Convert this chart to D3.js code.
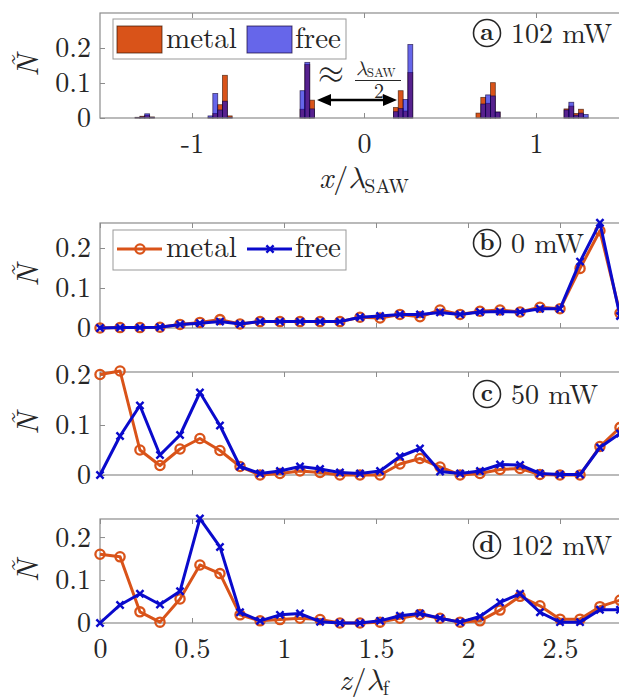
<!DOCTYPE html>
<html><head><meta charset="utf-8">
<script src="https://cdn.jsdelivr.net/npm/d3@7"></script>
<style>
body{margin:0;background:#fff}
svg{display:block}
</style>
</head><body>
<svg id="chart" width="619" height="700"></svg>
<script>
// ---------------- DATA ----------------
// Panel (a): histogram of positions x/lambda_SAW, 102 mW
const histLeft  = [-1.331,-1.303,-1.275,-1.247,
                   -0.907,-0.879,-0.851,-0.823,-0.795,
                   -0.372,-0.344,-0.316,
                    0.171, 0.199, 0.227, 0.255,
                    0.651, 0.679, 0.707, 0.735, 0.763,
                    1.163, 1.191, 1.219, 1.247, 1.275];
const histMetal = [0.002,0.005,0.008,0.003,
                   0.002,0.013,0.038,0.122,0.006,
                   0.025,0.153,0.051,
                   0.030,0.078,0.020,0.130,
                   0.014,0.059,0.042,0.101,0.017,
                   0.026,0.034,0.013,0.025,0.002];
const histFree  = [0.001,0.003,0.012,0.002,
                   0.006,0.070,0.023,0.048,0.002,
                   0.078,0.159,0.026,
                   0.018,0.027,0.053,0.210,
                   0.000,0.040,0.066,0.063,0.017,
                   0.023,0.045,0.008,0.014,0.010];
const histBinWidth = 0.0285;
const xTicksA = [-1, 0, 1];
const yTicksAll = [0, 0.1, 0.2];
const seriesNames = ["metal", "free"];

// Panels (b)-(d): N~ versus z/lambda_f
const zValues = [0,0.109,0.217,0.326,0.435,0.543,0.652,0.761,0.870,0.978,
                 1.087,1.196,1.304,1.413,1.522,1.630,1.739,1.848,1.957,2.065,
                 2.174,2.283,2.391,2.500,2.609,2.717,2.826];
const metal0   = [0,0.001,0.001,0.002,0.009,0.014,0.021,0.010,0.016,0.016,
                  0.016,0.016,0.016,0.027,0.025,0.034,0.028,0.045,0.034,0.042,
                  0.045,0.040,0.052,0.048,0.149,0.243,0.037];
const free0    = [0,0.001,0.001,0.002,0.009,0.012,0.016,0.010,0.016,0.016,
                  0.016,0.016,0.016,0.027,0.030,0.034,0.034,0.039,0.034,0.040,
                  0.041,0.040,0.048,0.048,0.166,0.263,0.030];
const metal50  = [0.201,0.208,0.050,0.019,0.052,0.073,0.049,0.017,0.000,0.003,
                  0.008,0.005,0.000,0.000,0.000,0.022,0.033,0.016,0.000,0.003,
                  0.011,0.013,0.001,0.000,0.000,0.057,0.095];
const free50   = [0.000,0.078,0.139,0.040,0.080,0.165,0.099,0.017,0.003,0.008,
                  0.017,0.012,0.005,0.003,0.008,0.037,0.053,0.007,0.003,0.008,
                  0.021,0.020,0.003,0.001,0.001,0.055,0.083];
const metal102 = [0.160,0.154,0.026,0.002,0.056,0.135,0.115,0.019,0.005,0.008,
                  0.011,0.008,0.000,0.000,0.002,0.011,0.020,0.011,0.002,0.005,
                  0.030,0.062,0.040,0.009,0.009,0.038,0.053];
const free102  = [0.000,0.042,0.068,0.043,0.074,0.243,0.177,0.025,0.005,0.019,
                  0.022,0.003,0.000,0.000,0.005,0.017,0.022,0.011,0.002,0.015,
                  0.048,0.068,0.025,0.002,0.002,0.031,0.031];
const zTicks = [0, 0.5, 1, 1.5, 2, 2.5];
const panelLetters = ["a", "b", "c", "d"];
const panelPowers  = ["102 mW", "0 mW", "50 mW", "102 mW"];

// ---------------- STYLE / LAYOUT ----------------
const ORANGE = "#D95319";
const BLUE = "#0a0acc";
const HIST_BLUE = "rgb(0,0,220)";
const FRAME = "#8c8c8c";
const FONT = "'Latin Modern Roman','Liberation Serif',serif";
const GREEK = "'Latin Modern Math','Latin Modern Roman','Liberation Serif',serif";
const FS = 28;
const TXT = "#262626";

const svg = d3.select("#chart");
const L = 100, R = 625;

function T(sel) { return sel.style("font-family", FONT).style("fill", TXT); }

function drawFrame(x, y, top, bottom, showXLabels, xTickVals, xFmt) {
  const g = svg.append("g");
  const ya = g.append("g").attr("transform", `translate(${L},0)`)
    .call(d3.axisLeft(y).tickValues(yTicksAll).tickSize(-5).tickPadding(9)
      .tickFormat(d => String(d)));
  ya.select(".domain").remove();
  ya.selectAll("line").attr("stroke", FRAME);
  T(ya.selectAll("text")).style("font-size", FS + "px");
  const xb = g.append("g").attr("transform", `translate(0,${bottom})`)
    .call(d3.axisBottom(x).tickValues(xTickVals).tickSize(-5).tickPadding(15)
      .tickFormat(showXLabels ? xFmt : () => ""));
  xb.select(".domain").remove();
  xb.selectAll("line").attr("stroke", FRAME);
  T(xb.selectAll("text")).style("font-size", FS + "px");
  const xt = g.append("g").attr("transform", `translate(0,${top})`)
    .call(d3.axisTop(x).tickValues(xTickVals).tickSize(-5).tickFormat(() => ""));
  xt.select(".domain").remove();
  xt.selectAll("line").attr("stroke", FRAME);
  g.append("rect").attr("x", L).attr("y", top).attr("width", R - L).attr("height", bottom - top)
    .attr("fill", "none").attr("stroke", FRAME).attr("stroke-width", 1.2);
  T(g.append("text")).attr("transform", `translate(38,${(top + bottom) / 2}) rotate(-90)`)
    .attr("text-anchor", "middle").style("font-size", "30px").style("font-style", "italic").text("Ñ");
}

function panelTag(i, cy) {
  const g = svg.append("g");
  g.append("circle").attr("cx", 487).attr("cy", cy).attr("r", 13.5)
    .attr("fill", "none").attr("stroke", TXT).attr("stroke-width", 1.6);
  T(g.append("text")).attr("x", 487).attr("y", cy + 7).attr("text-anchor", "middle")
    .style("font-size", "24px").style("font-weight", "bold").text(panelLetters[i]);
  T(g.append("text")).attr("x", 511).attr("y", cy + 10).style("font-size", FS + "px")
    .text(panelPowers[i]);
}

// ---------------- PANEL (a) ----------------
{
  const top = 13, bottom = 118;
  const x = d3.scaleLinear().domain([-1.535, (R - 364) / 172]).range([L, R]);
  const y = d3.scaleLinear().domain([0, 0.3]).range([bottom, top]);
  const bars = histLeft.map((l, i) => ({ l, m: histMetal[i], f: histFree[i] }));
  const hg = svg.append("g");
  hg.selectAll("rect.m").data(bars).join("rect")
    .attr("x", d => x(d.l)).attr("width", d => x(d.l + histBinWidth) - x(d.l))
    .attr("y", d => y(d.m)).attr("height", d => y(0) - y(d.m))
    .attr("fill", ORANGE).attr("stroke", "#331100").attr("stroke-opacity", 0.7).attr("stroke-width", 0.8);
  hg.selectAll("rect.f").data(bars).join("rect")
    .attr("x", d => x(d.l)).attr("width", d => x(d.l + histBinWidth) - x(d.l))
    .attr("y", d => y(d.f)).attr("height", d => y(0) - y(d.f))
    .attr("fill", HIST_BLUE).attr("fill-opacity", 0.6)
    .attr("stroke", "#110033").attr("stroke-opacity", 0.7).attr("stroke-width", 0.8);
  drawFrame(x, y, top, bottom, true, xTicksA, d => String(d));

  const lg = svg.append("g");
  lg.append("rect").attr("x", 113).attr("y", 19).attr("width", 233).attr("height", 40)
    .attr("fill", "#fff").attr("stroke", "#999").attr("stroke-width", 1);
  lg.append("rect").attr("x", 117).attr("y", 26).attr("width", 45).attr("height", 27)
    .attr("fill", ORANGE).attr("stroke", "#331100").attr("stroke-opacity", 0.7);
  lg.append("rect").attr("x", 247).attr("y", 26).attr("width", 45).attr("height", 27)
    .attr("fill", HIST_BLUE).attr("fill-opacity", 0.6).attr("stroke", "#110033").attr("stroke-opacity", 0.7);
  T(lg.append("text")).attr("x", 166).attr("y", 48).style("font-size", "29px").text(seriesNames[0]);
  T(lg.append("text")).attr("x", 295).attr("y", 48).style("font-size", "29px").text(seriesNames[1]);

  const ag = svg.append("g");
  ag.append("line").attr("x1", 325).attr("x2", 389).attr("y1", 100).attr("y2", 100)
    .attr("stroke", "#000").attr("stroke-width", 2.6);
  ag.append("path").attr("d", "M317,100 L331,94 L331,106 Z").attr("fill", "#000");
  ag.append("path").attr("d", "M397,100 L383,94 L383,106 Z").attr("fill", "#000");
  T(ag.append("text")).attr("x", 331).attr("y", 83).attr("text-anchor", "middle")
    .style("font-family", GREEK).style("font-size", "34px").text("≈");
  const num = T(ag.append("text")).attr("x", 356).attr("y", 75).style("font-size", "20px");
  num.append("tspan").style("font-family", GREEK).style("font-style", "italic").text("λ");
  num.append("tspan").style("font-size", "13px").attr("dy", 2).text("SAW");
  ag.append("line").attr("x1", 355).attr("x2", 401).attr("y1", 80.5).attr("y2", 80.5)
    .attr("stroke", TXT).attr("stroke-width", 1.2);
  T(ag.append("text")).attr("x", 379).attr("y", 98).attr("text-anchor", "middle").style("font-size", "20px").text("2");

  panelTag(0, 33);

  const xl = T(svg.append("text")).attr("x", 364).attr("y", 188).attr("text-anchor", "middle").style("font-size", "30px");
  xl.append("tspan").style("font-style", "italic").text("x");
  xl.append("tspan").text("/");
  xl.append("tspan").style("font-family", GREEK).style("font-style", "italic").text("λ");
  xl.append("tspan").style("font-size", "20px").attr("dy", 5).text("SAW");
}

// ---------------- PANELS (b)-(d) ----------------
const zPanels = [
  { top: 223, bottom: 328, ymax: 0.2625, metal: metal0,   free: free0,   tagY: 243, legend: true },
  { top: 372, bottom: 475, ymax: 0.206,  metal: metal50,  free: free50,  tagY: 394, legend: false },
  { top: 519, bottom: 623, ymax: 0.242,  metal: metal102, free: free102, tagY: 545, legend: false }
];
const x2 = d3.scaleLinear().domain([0, (R - L) / 184]).range([L, R]);

function drawCircleMarker(g, cx, cy) {
  g.append("circle").attr("cx", cx).attr("cy", cy).attr("r", 4.6)
    .attr("fill", "none").attr("stroke", ORANGE).attr("stroke-width", 2.3);
}
function drawXMarker(g, cx, cy) {
  const s = 3.6;
  g.append("path").attr("d", `M${cx - s},${cy - s}L${cx + s},${cy + s}M${cx - s},${cy + s}L${cx + s},${cy - s}`)
    .attr("stroke", BLUE).attr("stroke-width", 2.4).attr("fill", "none");
}

zPanels.forEach((p, i) => {
  const y = d3.scaleLinear().domain([0, p.ymax]).range([p.bottom, p.top]);
  drawFrame(x2, y, p.top, p.bottom, i === 2, zTicks, d => String(d));
  const line = d3.line().x((d, k) => x2(zValues[k])).y(d => y(d));
  const g = svg.append("g");
  g.append("path").datum(p.metal).attr("d", line).attr("fill", "none")
    .attr("stroke", ORANGE).attr("stroke-width", 3).attr("stroke-linejoin", "round");
  p.metal.forEach((v, k) => drawCircleMarker(g, x2(zValues[k]), y(v)));
  g.append("path").datum(p.free).attr("d", line).attr("fill", "none")
    .attr("stroke", BLUE).attr("stroke-width", 3).attr("stroke-linejoin", "round");
  p.free.forEach((v, k) => drawXMarker(g, x2(zValues[k]), y(v)));

  panelTag(i + 1, p.tagY);

  if (p.legend) {
    const lg = svg.append("g");
    lg.append("rect").attr("x", 113).attr("y", 230).attr("width", 233).attr("height", 40)
      .attr("fill", "#fff").attr("stroke", "#999").attr("stroke-width", 1);
    lg.append("line").attr("x1", 117).attr("x2", 162).attr("y1", 249).attr("y2", 249)
      .attr("stroke", ORANGE).attr("stroke-width", 3);
    drawCircleMarker(lg, 140, 249);
    lg.append("line").attr("x1", 247).attr("x2", 292).attr("y1", 249).attr("y2", 249)
      .attr("stroke", BLUE).attr("stroke-width", 3);
    drawXMarker(lg, 270, 249);
    T(lg.append("text")).attr("x", 166).attr("y", 257).style("font-size", "29px").text(seriesNames[0]);
    T(lg.append("text")).attr("x", 295).attr("y", 257).style("font-size", "29px").text(seriesNames[1]);
  }
});

{
  const zl = T(svg.append("text")).attr("x", 364).attr("y", 690).attr("text-anchor", "middle").style("font-size", "30px");
  zl.append("tspan").style("font-style", "italic").text("z");
  zl.append("tspan").text("/");
  zl.append("tspan").style("font-family", GREEK).style("font-style", "italic").text("λ");
  zl.append("tspan").style("font-size", "20px").attr("dy", 5).text("f");
}
</script>
</body></html>
